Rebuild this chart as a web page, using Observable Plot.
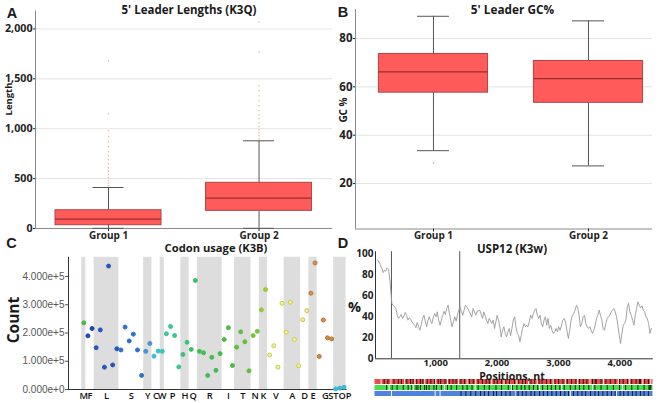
<!DOCTYPE html>
<html><head><meta charset="utf-8">
<script src="https://cdn.jsdelivr.net/npm/d3@7"></script>
<script src="https://cdn.jsdelivr.net/npm/@observablehq/plot@0.6"></script>
<style>
body{margin:0;background:#fff;}
#root{position:relative;width:663px;height:403px;overflow:hidden;background:#fff;font-family:"Open Sans",sans-serif;}
#root svg{position:absolute;left:0;top:0;overflow:visible;}
.lbl{position:absolute;white-space:nowrap;line-height:1;color:#1a1a1a;font-weight:700;}
</style></head><body><div id="root"></div>
<script>
// ---------- Panel A: 5' leader lengths ----------
const groups = ["Group 1", "Group 2"];
const lenQ1 = [33, 177];
const lenMed = [93, 304];
const lenQ3 = [183, 458];
const lenLo = [2, 2];
const lenHi = [411, 879];
const lenOutliers1 = [430, 455, 480, 510, 540, 575, 610, 650, 690, 730, 770, 820, 870, 920, 980, 1150, 1680];
const lenOutliers2 = [900, 930, 960, 990, 1020, 1060, 1100, 1140, 1180, 1230, 1280, 1330, 1380, 1430, 1770, 2070];
const lenTicks = [0, 500, 1000, 1500, 2000];

// ---------- Panel B: 5' leader GC% ----------
const gcQ1 = [57.6, 53.4];
const gcMed = [66.2, 63.4];
const gcQ3 = [73.6, 70.7];
const gcLo = [33.6, 27.3];
const gcHi = [89.2, 87.3];
const gcOutliers1 = [28.5];
const gcTicks = [20, 40, 60, 80];

// ---------- Panel C: codon usage ----------
const aaList = ["M","F","L","S","Y","C","W","P","H","Q","R","I","T","N","K","V","A","D","E","G","STOP"];
const aaCodonCount = [1,2,6,6,2,2,1,4,2,2,6,3,4,2,2,4,4,2,2,4,3];
const shadedAA = ["M","L","Y","W","H","R","T","K","A","E","STOP"];
const aaColor = ["#4cb84a","#1f44b3","#2557be","#2f70cb","#4394d6","#3cbfd0","#39c7b4","#38c894","#3ec27a","#3fbf66","#42bd54","#4cbb42","#5fbf3b","#7cc43a","#9cc938","#c4d236","#cfcd33","#d9c13a","#d8964a","#d48b44","#3ab8d4"];
const hollowAA = ["V","A","D"];
const codonCounts = [
  236000,
  190000, 216000,
  148000, 211000, 79000, 437000, 87000, 144000,
  140000, 221000, 172000, 196000, 140000, 50000,
  135000, 163000,
  118000, 136000,
  135000,
  197000, 223000, 191000, 80000,
  124000, 167000,
  142000, 386000,
  135000, 130000, 50000, 114000, 68000, 127000,
  177000, 219000, 85000,
  150000, 204000, 169000, 66000,
  191000, 206000,
  282000, 354000,
  122000, 155000, 79000, 305000,
  203000, 309000, 177000, 84000,
  247000, 279000,
  341000, 448000,
  117000, 246000, 183000, 179000,
  2000, 5000, 8000
];
const countTicks = [0, 100000, 200000, 300000, 400000];

// ---------- Panel D: USP12 ----------
const usp12 = [
 [58,94],[91,90.7],[123,86],[145,82],[166,84.4],[188,83.4],[210,86.6],[232,85.3],[254,74.9],[276,60.6],
 [286,52.7],[308,51],[330,49.5],[352,47.9],[374,41.5],[395,38.4],[417,40],[439,42.2],[461,38.4],[483,40.9],
 [504,44.1],[526,41.5],[548,36.8],[570,39],[592,37.7],[613,35.2],[635,33.6],[657,32],[679,29.5],[700,34.6],
 [722,30.5],[744,27.2],[766,32.7],[788,38.4],[809,41.5],[831,35.8],[853,30.5],[875,36.8],[897,40],[918,35.8],
 [940,33.6],[962,40],[984,43.1],[1006,40],[1027,44.7],[1049,36.8],[1071,32],[1093,36.8],[1115,41.5],[1136,45.3],
 [1158,42.2],[1180,47.9],[1202,51],[1224,43.1],[1245,36.8],[1267,30.5],[1289,35.2],[1311,40],[1333,35.8],[1354,41.5],
 [1376,46.3],[1398,49.5],[1420,44.7],[1442,41.5],[1463,46.3],[1485,51],[1518,48.5],[1551,44.7],
 [1588,40],[1610,47.9],[1654,41.5],[1676,45.3],[1719,46.3],[1763,38.4],[1784,44.7],[1828,36.8],[1850,33.6],[1872,38.4],
 [1915,33.6],[1937,36.8],[1959,28.9],[1981,35.2],[2002,41.5],[2024,36.8],[2046,30.5],[2068,20.9],[2090,27.2],[2111,30.5],
 [2133,24.1],[2155,20.9],[2177,25.7],[2198,28.9],[2220,21.9],[2242,28.9],[2264,36.8],[2286,40],[2307,30.5],[2329,24.1],
 [2351,22.5],[2373,16.2],[2395,22.5],[2416,28.9],[2438,33.6],[2460,30.5],[2482,32],[2503,30.5],[2525,35.2],[2547,41.5],
 [2569,38.4],[2591,43.1],[2612,46.3],[2634,47.9],[2656,41.5],[2678,38.4],[2700,41.5],[2721,33.6],[2743,30.5],[2765,36.8],
 [2787,40],[2808,32],[2830,38.4],[2852,28.9],[2874,32],[2895,27.2],[2917,24.1],[2939,25.7],[2961,28.9],[2983,25.7],
 [3004,30.5],[3026,27.2],
 [3043,30.5],[3070,36.8],[3097,38.4],[3119,33.6],[3141,25.7],[3162,19.3],[3184,27.2],[3206,36.8],[3228,41.5],[3249,43.1],
 [3271,46.3],[3293,51],[3315,47.9],[3336,41.5],[3358,30.5],[3380,33.6],[3402,40],[3424,41.5],[3445,33.6],[3467,30.5],
 [3489,28.9],[3511,30.5],[3532,27.2],[3554,24.1],[3576,27.2],[3598,32],[3620,38.4],[3641,41.5],[3663,46.3],[3685,41.5],
 [3707,36.8],[3728,28.9],[3750,27.2],[3772,33.6],[3794,38.4],[3816,40],[3837,41.5],[3859,44.7],[3881,46.3],[3903,47.9],
 [3925,44.7],[3946,40],[3968,32],[3990,22.5],[4012,14.6],[4033,24.1],[4055,32],[4077,33.6],[4099,36.8],[4121,49.5],
 [4142,52.7],[4164,44.7],[4186,41.5],[4208,36.8],[4229,32],[4251,41.5],[4273,47.9],[4295,54.3],[4317,51],[4338,48.5],
 [4360,50.5],[4382,46.3],[4404,44.7],[4425,40],[4447,38.4],[4469,33.6],[4491,24.1],[4513,28.9]
];
const regionBounds = [280, 1392];
const pctTicks = [0, 20, 40, 60, 80, 100];
const posTicks = [1000, 2000, 3000, 4000];

// frame bars under panel D
const frames = ["Frame 1", "Frame 2", "Frame 3"];
const frameColors = ["#ea4b4b", "#4ade4a", "#4f82df"];
const redDark = [170,230,330,400,450,540,600,640,700,760,800,870,930,990,1050,1090,1160,1230,1290,1340,1420,1480,1560,1620,1700,1770,1830,1880,1960,2010,2080,2150,2210,2290,2360,2420,2470,2560,2620,2690,2740,2810,2880,2950,3010,3080,3150,3220,3290,3350,3410,3470,3560,3605,3620,3700,3780,3850,3930,4000,4060,4130,4200,4270,4325,4340,4410,4470];
const redLight = [120,280,500,670,830,1010,1200,1380,1520,1660,1920,2120,2330,2520,2660,2920,3120,3320,3520,3740,3980,4160,4380,4510];
const greenDark = [210,300,380,480,560,620,690,720,760,830,860,900,980,1020,1100,1200,1260,1350,1450,1520,1600,1700,1800,1880,1990,2080,2190,2260,2330,2400,2460,2530,2600,2670,2750,2830,2890,2960,3030,3100,3200,3280,3350,3420,3500,3600,3700,3800,3900,4000,4100,4200,4300,4400,4480,4495,4510];
const greenLight = [250,640,1150,1650,2240,2700,3060,3560,4050];
const blueDark = [1420,1500,1580,1660,1740,1800,1870,1950,2000,2080,2150,2220,2290,2350,2420,2480,2560,2620,2700,2760,2830,2900,2970,3040,3110,3170,3250,3320,3390,3450,3530,3600,3660,3730,3800,3870,3930,4010,4070,4140,4210,4270,4340,4400,4470];
const blueLight = [290,1000,1080,2300,3200,3950];

// ---------- build ----------
const W = 663, H = 403;
const root = document.getElementById("root");
const baseStyle = {fontFamily: "'Open Sans', sans-serif", background: "transparent", overflow: "visible"};
const add = el => root.appendChild(el);

function boxTable(q1, med, q3, lo, hi) {
  return groups.map((g, i) => ({g: i + 1, q1: q1[i], med: med[i], q3: q3[i], lo: lo[i], hi: hi[i]}));
}
function boxMarks(box, hw, cw) {
  return [
    Plot.ruleX(box, {x: "g", y1: "lo", y2: "hi", stroke: "#555", strokeWidth: 1}),
    Plot.ruleY(box, {y: "hi", x1: d => d.g - cw, x2: d => d.g + cw, stroke: "#555"}),
    Plot.ruleY(box, {y: "lo", x1: d => d.g - cw, x2: d => d.g + cw, stroke: "#555"}),
    Plot.rect(box, {x1: d => d.g - hw, x2: d => d.g + hw, y1: "q1", y2: "q3", fill: "#ff5b5b", stroke: "#b44343", strokeWidth: 1}),
    Plot.ruleY(box, {y: "med", x1: d => d.g - hw, x2: d => d.g + hw, stroke: "#9a2d2d", strokeWidth: 1.3})
  ];
}

// Panel A
const boxA = boxTable(lenQ1, lenMed, lenQ3, lenLo, lenHi);
const outA = [...lenOutliers1.map(v => ({g: 1, v})), ...lenOutliers2.map(v => ({g: 2, v}))];
add(Plot.plot({
  width: W, height: H, marginLeft: 35, marginRight: W - 332, marginTop: 10.5, marginBottom: H - 228,
  style: baseStyle,
  x: {domain: [0.515, 2.488], label: null},
  y: {domain: [0, 2180], label: null},
  marks: [
    Plot.gridY(lenTicks.slice(1), {stroke: "#e3e3e3", strokeOpacity: 1}),
    Plot.ruleX([0.515], {stroke: "#8a8a8a"}),
    Plot.ruleY([0], {stroke: "#8a8a8a"}),
    Plot.axisY(lenTicks, {tickSize: 2, tickPadding: 1, tickFormat: d3.format(","), fontSize: 10.7, fontWeight: 700, color: "#222", label: null}),
    Plot.axisX([1, 2], {tickSize: 3, tickPadding: 0, tickFormat: d => groups[d - 1], fontSize: 10, fontWeight: 700, color: "#222", label: null}),
    Plot.dot(outA, {x: "g", y: "v", r: 0.8, fill: "#f1b49c", stroke: null}),
    ...boxMarks(boxA, 0.352, 0.103)
  ]
}));

// Panel B
const boxB = boxTable(gcQ1, gcMed, gcQ3, gcLo, gcHi);
add(Plot.plot({
  width: W, height: H, marginLeft: 355, marginRight: W - 652, marginTop: 9, marginBottom: H - 228.5,
  style: baseStyle,
  x: {domain: [0.497, 2.413], label: null},
  y: {domain: [1.2, 92], label: null},
  marks: [
    Plot.gridY(gcTicks, {stroke: "#e3e3e3", strokeOpacity: 1}),
    Plot.ruleX([0.497], {stroke: "#8a8a8a"}),
    Plot.ruleY([1.2], {stroke: "#8a8a8a"}),
    Plot.axisY(gcTicks, {tickSize: 2, tickPadding: 1, fontSize: 11.5, fontWeight: 700, color: "#222", label: null}),
    Plot.axisX([1, 2], {tickSize: 3, tickPadding: 0, tickFormat: d => groups[d - 1], fontSize: 10, fontWeight: 700, color: "#222", label: null}),
    Plot.dot(gcOutliers1.map(v => ({g: 1, v})), {x: "g", y: "v", r: 0.8, fill: "#aaa", stroke: null}),
    ...boxMarks(boxB, 0.352, 0.103)
  ]
}));

// Panel C
const aaGroups = [];
const codons = [];
{
  let start = 0;
  aaList.forEach((aa, k) => {
    const n = aaCodonCount[k];
    aaGroups.push({aa, x1: start - 0.5, x2: start + n - 0.5, center: start + (n - 1) / 2});
    for (let j = 0; j < n; j++) {
      const i = start + j;
      const hollow = hollowAA.includes(aa);
      const orange = aa === "E" || aa === "G";
      codons.push({i, aa, count: codonCounts[i],
        fill: hollow ? "#f1efb4" : aaColor[k],
        stroke: orange ? "#b97432" : aaColor[k]});
    }
    start += n;
  });
}
const aaByCenter = new Map(aaGroups.map(d => [d.center, d.aa]));
const fmtExp = d => d === 0 ? "0.000e+0" : d.toExponential(3);
add(Plot.plot({
  width: W, height: H, marginLeft: 68, marginRight: W - 346.6, marginTop: 256.8, marginBottom: H - 389,
  style: baseStyle,
  x: {domain: [-3.7, 63.75], label: null},
  y: {domain: [0, 468000], label: null},
  color: {type: "identity"},
  marks: [
    Plot.rect(aaGroups.filter(d => shadedAA.includes(d.aa)), {x1: "x1", x2: "x2", y1: 0, y2: 468000, fill: "#dddddd"}),
    Plot.ruleX([-3.7], {stroke: "#333"}),
    Plot.ruleY([0], {stroke: "#333"}),
    Plot.axisY(countTicks, {tickSize: 3, tickPadding: 1, tickFormat: fmtExp, fontFamily: "'Liberation Sans', Arial, sans-serif", fontSize: 10, color: "#555", label: null}),
    Plot.axisX(aaGroups.map(d => d.center), {tickSize: 0, tickPadding: 3, tickFormat: d => aaByCenter.get(d), fontSize: 9.3, fontWeight: 600, color: "#111", label: null}),
    Plot.dot(codons, {x: "i", y: "count", r: 2, fill: "fill", stroke: "stroke", strokeWidth: 1})
  ]
}));

// Panel D
add(Plot.plot({
  width: W, height: H, marginLeft: 375, marginRight: W - 652.8, marginTop: 251.2, marginBottom: H - 358.3,
  style: baseStyle,
  x: {domain: [20, 4545], label: null},
  y: {domain: [0, 102], label: null},
  marks: [
    Plot.ruleX([20], {stroke: "#333"}),
    Plot.ruleY([0], {stroke: "#333"}),
    Plot.axisY(pctTicks, {tickSize: 0, tickPadding: 2, fontSize: 10, fontWeight: 700, color: "#222", label: null}),
    Plot.axisX(posTicks, {tickSize: 0, tickPadding: 0.3, tickFormat: d3.format(","), fontSize: 9.5, fontWeight: 700, color: "#222", label: null}),
    Plot.ruleX(regionBounds, {y1: 0, y2: 102, stroke: "#555"}),
    Plot.line(usp12, {x: d => d[0], y: d => d[1], stroke: "#999", strokeWidth: 0.9})
  ]
}));

// frame bars
const stripes = [
  ...redDark.map(p => ({f: frames[0], p, c: "#111"})),
  ...redLight.map(p => ({f: frames[0], p, c: "#fff"})),
  ...greenDark.map(p => ({f: frames[1], p, c: "#111"})),
  ...greenLight.map(p => ({f: frames[1], p, c: "#fff"})),
  ...blueDark.map(p => ({f: frames[2], p, c: "#111"})),
  ...blueLight.map(p => ({f: frames[2], p, c: "#fff"}))
];
add(Plot.plot({
  width: W, height: H, marginLeft: 374.5, marginRight: W - 652.5, marginTop: 378, marginBottom: H - 396.5,
  style: baseStyle,
  x: {domain: [20, 4545], axis: null},
  y: {domain: frames, axis: null, paddingInner: 0.18, paddingOuter: 0},
  color: {type: "identity"},
  marks: [
    Plot.barX(frames.map((f, i) => ({f, c: frameColors[i]})), {x1: 20, x2: 4545, y: "f", fill: "c"}),
    Plot.barX(stripes, {x1: "p", x2: d => d.p + 15, y: "f", fill: "c"})
  ]
}));

// text labels
const labels = [
  {t: "A", x: 12, y: 12.5, s: 14.5, f: "'Liberation Sans', Arial"},
  {t: "B", x: 343, y: 11.5, s: 14.5, f: "'Liberation Sans', Arial"},
  {t: "C", x: 11.5, y: 243, s: 14.5, f: "'Liberation Sans', Arial"},
  {t: "D", x: 343, y: 243, s: 14.5, f: "'Liberation Sans', Arial"},
  {t: "5' Leader Lengths (K3Q)", x: 189, y: 10, s: 11.5},
  {t: "5' Leader GC%", x: 512.5, y: 10, s: 11.8},
  {t: "Codon usage (K3B)", x: 216, y: 247.5, s: 11.2},
  {t: "USP12 (K3w)", x: 512, y: 249, s: 11.5},
  {t: "Length", x: 8.5, y: 99, s: 9.5, r: -90},
  {t: "GC %", x: 342.5, y: 110, s: 10, r: -90},
  {t: "Count", x: 14, y: 320, s: 15.5, r: -90},
  {t: "%", x: 354.5, y: 307, s: 14.5},
  {t: "Positions, nt", x: 512, y: 375.6, s: 10.6}
];
labels.forEach(l => {
  const d = document.createElement("div");
  d.className = "lbl";
  d.textContent = l.t;
  d.style.left = l.x + "px";
  d.style.top = l.y + "px";
  d.style.fontSize = l.s + "px";
  if (l.f) d.style.fontFamily = l.f;
  d.style.transform = `translate(-50%,-50%)${l.r ? ` rotate(${l.r}deg)` : ""}`;
  root.appendChild(d);
});
</script></body></html>
